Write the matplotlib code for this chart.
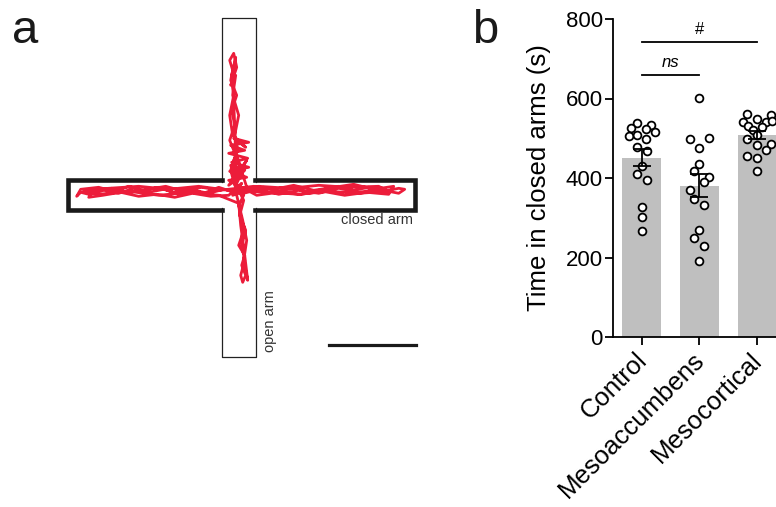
import matplotlib.pyplot as plt
import matplotlib.transforms as mtransforms
import numpy as np

plt.rcParams["font.family"] = ["Liberation Sans", "DejaVu Sans"]

# ---- panel b data (s in closed arms) ----
groups = ["Control", "Mesoaccumbens", "Mesocortical"]
control = [539, 534, 526, 524, 515, 505, 507, 497, 477, 467, 429, 411, 396, 327, 302, 267]
mesoaccumbens = [602, 497, 500, 476, 434, 417, 402, 389, 371, 347, 333, 270, 249, 230, 190]
mesocortical = [561, 549, 558, 541, 540, 543, 530, 520, 529, 509, 497, 484, 486, 470,
                455, 450, 417]
yticks = [0, 200, 400, 600, 800]
# significance brackets: (group i, group j, text, height)
brackets = [(0, 1, "ns", 660), (0, 2, "#", 742)]

# ---- panel a: one trajectory in the plus maze (maze units, centre = 0,0) ----
track_x = [0, -15, -30, -45, -60, -75, -90, -105, -120, -135, -150, -158, -162,
           -158, -140, -125, -110, -95, -80, -65, -50, -35, -20, -5,
           10, 25, 40, 55, 70, 85, 100, 115, 130, 145, 160, 166,
           160, 140, 120, 100, 80, 60, 40, 20, 5,
           -4, -8, -3, -9, -4, -7, -2, -8, -6, -9, -5, -2, -8,
           -3, -6, 0, -4, -1, -7, 2, -3, 5, 0,
           2, 5, 0, 6, 3, 7, 4, 2, 6, 3, 7, 1, 5, 0,
           -8, 6, -4, 8, -10, 4, -2, 9, -6, 3,
           -10, -28, -46, -64, -82, -100, -118, -136, -150,
           -145, -127, -109, -91, -73, -55, -37, -19,
           15, 35, 55, 75, 95, 115, 135, 155,
           150, 128, 106, 84, 62, 40, 18,
           -10, 8, -9, 10, -7, 9, -10, 6, -8, 10, -5, 7,
           -6, -9, -5, -7, -3, -6, -4,
           -2, 4, 8, 5, 9, 6, 2, 0,
           -20, -50, -80, -110, -140, -155, -130, -100, -70, -40, -10,
           30, 60, 90, 120, 150, 140, 110, 80, 50, 20, 0]
track_y = [4, 6, 2, 5, 1, 6, 3, 7, 2, 5, 1, 3, -1,
           6, 8, 4, 9, 5, 8, 3, 7, 2, 8, 3,
           5, 8, 4, 7, 3, 6, 9, 5, 8, 4, 7, 6,
           2, 6, 3, 7, 2, 5, 1, 6, 2,
           10, 25, 40, 55, 70, 85, 100, 115, 125, 135, 142, 128, 110,
           120, 100, 80, 60, 45, 30, 20, 10, 0, -10,
           -20, -35, -50, -60, -70, -80, -87, -80, -65, -50, -35, -20, -5, 5,
           30, 25, 15, 35, 10, 20, 40, 5, 0, 12,
           0, -1, 2, -2, 1, -1, 3, 0, -2,
           4, 7, 3, 6, 9, 4, 8, 5,
           9, 6, 10, 5, 8, 11, 6, 9,
           1, 3, 0, 4, 1, 3, 0,
           15, 18, 24, 28, 33, 37, 42, 45, 50, 53, 57, 48,
           60, 80, 100, 120, 138, 115, 70,
           0, -25, -45, -65, -85, -60, -30, -8,
           0, 3, 0, 4, 1, 4, 7, 9, 6, 9, 5,
           3, 1, 4, 2, 4, 9, 8, 10, 7, 9, 4]

RED = "#ec1c3a"
GREY = "#bfbfbf"

fig = plt.figure(figsize=(7.76, 5.07), dpi=100)

# ---------------- panel a ----------------
ax_a = fig.add_axes([0, 0, 434 / 776, 1])
ax_a.set_xlim(-238.7, 195.3)
ax_a.set_ylim(-311.7, 195.3)
ax_a.axis("off")

w = 17          # half width of an arm
left, right, top, bottom = -171, 176.5, 177, -162
# open arm, thin outline
ax_a.plot([-w, -w, w, w], [13, top, top, 13], color="#222222", lw=0.9)
ax_a.plot([-w, -w, w, w], [-13, bottom, bottom, -13], color="#222222", lw=0.9)
# closed arm, thick outline, open at the centre
h = 14.8
ax_a.plot([-w + 0.5, left, left, -w + 0.5], [h, h, -h, -h], color="#1a1a1a", lw=3.3,
          solid_joinstyle="miter")
ax_a.plot([w - 0.5, right, right, w - 0.5], [h, h, -h, -h], color="#1a1a1a", lw=3.3,
          solid_joinstyle="miter")

ax_a.plot(track_x, track_y, color=RED, lw=2.0, solid_joinstyle="round")

ax_a.text(174.6, -24.7, "closed arm", fontsize=10.5, color="#333333",
          ha="right", va="center")
ax_a.text(31.3, -156.7, "open arm", fontsize=10.5, color="#333333", rotation=90,
          rotation_mode="anchor", ha="left", va="center")
# scale bar
ax_a.plot([90.3, 177], [-149.7, -149.7], color="#1a1a1a", lw=2.3)

fig.text(12 / 776, 1 - 43 / 507, "a", fontsize=34, va="baseline", color="#1a1a1a")
fig.text(472 / 776, 1 - 43 / 507, "b", fontsize=34, va="baseline", color="#1a1a1a")

# ---------------- panel b ----------------
ax = fig.add_axes([612.7 / 776, 1 - 337 / 507, 1 - 612.7 / 776, 318 / 507])

data = [control, mesoaccumbens, mesocortical]
means = [np.mean(d) for d in data]
sems = [np.std(d, ddof=1) / np.sqrt(len(d)) for d in data]
x = np.arange(len(groups))

ax.bar(x, means, width=0.67, color=GREY, zorder=1)

# horizontal spread of the dots (pixels / 58 px per group step)
offsets = [
    [-4.5, 9.5, -10.5, 4.5, 14, -13, -4.5, 4.5, -5, 5, 0, -4.5, 5.5, 0, 0, 0],
    [0, -9.5, 9.5, 0, 0, -5, 9.5, 4.5, -9.5, -5, 4.5, 0, -5, 4.5, 0],
    [-10, 0, 14, -14, 9, 15, -8.7, -3.7, 4.7, 0, -10, 0, 14, 9, -10, 0, 0],
]
for i, (d, off) in enumerate(zip(data, offsets)):
    ax.plot(x[i] + np.array(off) / 58, d, "o", ms=5.6, mfc="white", mec="black",
            mew=1.3, zorder=3, clip_on=False)

ax.errorbar(x, means, yerr=sems, fmt="none", ecolor="black", elinewidth=1.3,
            capsize=6.5, capthick=1.3, zorder=4)

for i, j, label, yb in brackets:
    ax.plot([x[i], x[j]], [yb, yb], color="black", lw=1.3, clip_on=False)
    style = "italic" if label == "ns" else "normal"
    ax.text((x[i] + x[j]) / 2, yb + 12, label, ha="center", va="bottom",
            fontsize=12, style=style)

ax.set_xlim(-0.5, 2.33)
ax.set_ylim(0, 800)
ax.set_yticks(yticks)
ax.tick_params(axis="y", labelsize=16, length=6, width=1.3, pad=1)
ax.tick_params(axis="x", labelsize=18.5, length=6, width=1.3, pad=2)
ax.set_xticks(x)
ax.set_xticklabels(groups, rotation=45, ha="right", rotation_mode="anchor")
shift = mtransforms.ScaledTranslation(-7 / 100, 0, fig.dpi_scale_trans)
for lab in ax.get_xticklabels():
    lab.set_transform(lab.get_transform() + shift)
ax.set_ylabel("Time in closed arms (s)", fontsize=18.5, labelpad=11)
ax.spines["top"].set_visible(False)
ax.spines["right"].set_visible(False)
ax.spines["left"].set_linewidth(1.3)
ax.spines["bottom"].set_linewidth(1.3)

fig.savefig("out.png", dpi=100)
